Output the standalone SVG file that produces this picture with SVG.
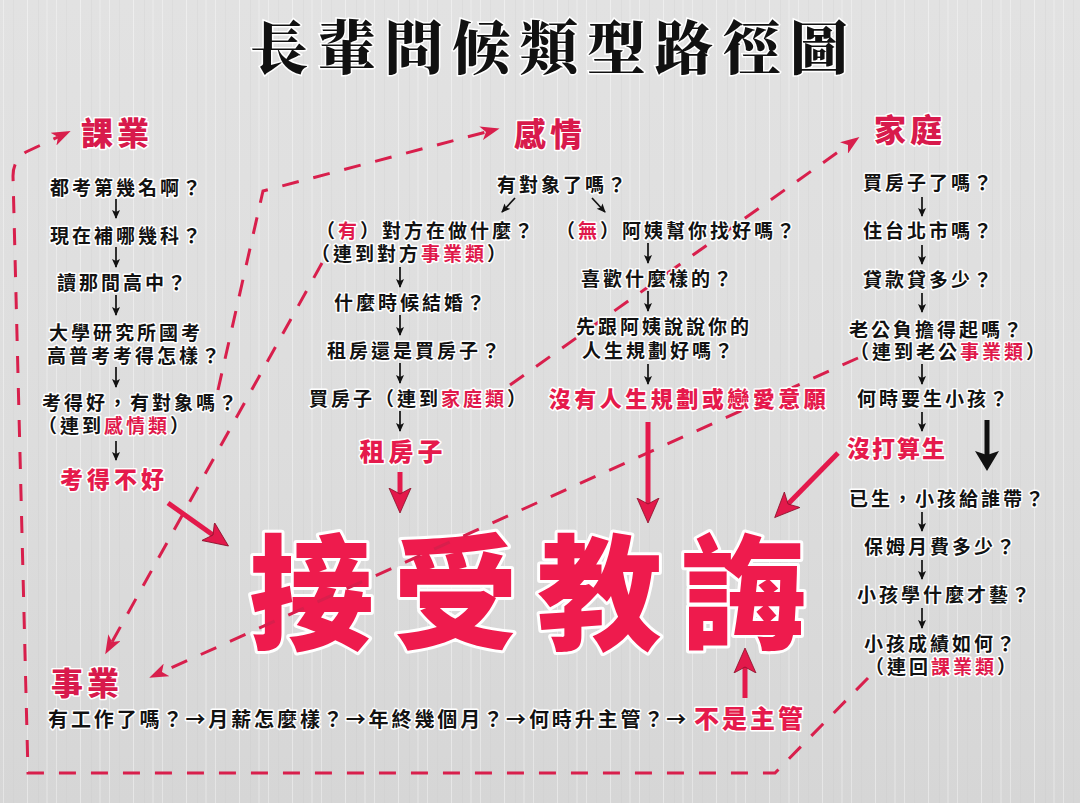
<svg xmlns="http://www.w3.org/2000/svg" width="1080" height="803" viewBox="0 0 1080 803">
<defs>
<linearGradient id="bg" x1="0" y1="0" x2="0" y2="1">
<stop offset="0" stop-color="#e2e2e2"/><stop offset="0.55" stop-color="#dddddd"/><stop offset="1" stop-color="#d6d6d6"/>
</linearGradient>
<pattern id="streaks" width="53" height="803" patternUnits="userSpaceOnUse">
<rect x="3" width="1" height="803" fill="#fff" opacity="0.35"/>
<rect x="13" width="1" height="803" fill="#c8c8c8" opacity="0.2"/>
<rect x="27" width="1" height="803" fill="#fff" opacity="0.4"/>
<rect x="38" width="1" height="803" fill="#c0c0c0" opacity="0.18"/>
<rect x="46" width="2" height="803" fill="#f4f4f4" opacity="0.3"/>
</pattern>
<marker id="sa" markerUnits="userSpaceOnUse" markerWidth="10" markerHeight="10" refX="8" refY="5" orient="auto"><path d="M0,1 L9,5 L0,9 L2,5z" fill="#111"/></marker>
<marker id="dh" markerUnits="userSpaceOnUse" markerWidth="20" markerHeight="14" refX="5" refY="7" orient="auto"><path d="M0,0 L19,7 L0,14 L5,7z" fill="#d81f4c"/></marker>
<marker id="rh" markerUnits="userSpaceOnUse" markerWidth="26" markerHeight="24" refX="6" refY="12" orient="auto"><path d="M0,1 L25,12 L0,23 L6,12z" fill="#e3194b" stroke="#8a0f2a" stroke-width="0.8"/></marker>
<marker id="bh" markerUnits="userSpaceOnUse" markerWidth="26" markerHeight="26" refX="4" refY="13" orient="auto"><path d="M0,1 L20,13 L0,25 L4,13z" fill="#111"/></marker>
</defs>
<style>
.t{font-family:"Noto Sans CJK TC","Noto Sans CJK SC",sans-serif;font-weight:700;font-size:19px;letter-spacing:3px;fill:#121212;stroke:#fff;stroke-width:3px;paint-order:stroke;stroke-linejoin:round;text-anchor:middle}
.r{fill:#e0194b}
.h{font-size:32px;font-weight:900;fill:#d81a4c;letter-spacing:4px}
.rl{font-size:23px;font-weight:900;fill:#e51a4c;letter-spacing:4px}
.big{font-family:"Noto Sans CJK TC","Noto Sans CJK SC",sans-serif;font-weight:900;font-size:125px;letter-spacing:19px;fill:#ee1b4d;stroke:#fff;stroke-width:6px;paint-order:stroke;stroke-linejoin:round}
.title{font-family:"Noto Serif CJK TC","Noto Sans CJK TC","Noto Sans CJK SC",serif;font-weight:900;font-size:58px;letter-spacing:9.5px;fill:#111;stroke:#fff;stroke-width:3px;paint-order:stroke}
.sm{stroke:#111;stroke-width:1.7;fill:none;marker-end:url(#sa)}
.dash{stroke:#d81f4c;stroke-width:3;fill:none;stroke-dasharray:17 15;marker-end:url(#dh)}
.ra{stroke:#e3194b;stroke-width:5;fill:none;marker-end:url(#rh)}
</style>
<rect width="1080" height="803" fill="url(#bg)"/>
<rect width="1080" height="803" fill="url(#streaks)"/>

<text class="title" x="250" y="69">長輩問候類型路徑圖</text>

<g id="result">
<text class="big" x="249" y="640">接受教誨</text>
</g>

<g id="connectors">
<path class="dash" d="M868,678 L775,773 L28,773 L13,176 Q13,160 26,152 L58,137"/>
<path class="dash" d="M218,390 L263,191 L486,132"/>
<path class="dash" d="M322,263 L112,642"/>
<path class="dash" d="M510,385 L848,145"/>
<path class="dash" d="M858,358 L162,672"/>
<line class="sm" x1="116" y1="199" x2="116" y2="218"/>
<line class="sm" x1="116" y1="247" x2="116" y2="267"/>
<line class="sm" x1="116" y1="295" x2="116" y2="315"/>
<line class="sm" x1="116" y1="367" x2="116" y2="387"/>
<line class="sm" x1="116" y1="441" x2="116" y2="460"/>
<line class="sm" x1="515" y1="198" x2="502" y2="212"/>
<line class="sm" x1="592" y1="198" x2="605" y2="212"/>
<line class="sm" x1="400" y1="267" x2="400" y2="287"/>
<line class="sm" x1="400" y1="315" x2="400" y2="335"/>
<line class="sm" x1="400" y1="363" x2="400" y2="383"/>
<line class="sm" x1="400" y1="411" x2="400" y2="431"/>
<line class="sm" x1="648" y1="243" x2="648" y2="263"/>
<line class="sm" x1="648" y1="291" x2="648" y2="311"/>
<line class="sm" x1="648" y1="364" x2="648" y2="384"/>
<line class="sm" x1="922" y1="197" x2="922" y2="216"/>
<line class="sm" x1="922" y1="245" x2="922" y2="264"/>
<line class="sm" x1="922" y1="293" x2="922" y2="312"/>
<line class="sm" x1="922" y1="364" x2="922" y2="384"/>
<line class="sm" x1="922" y1="412" x2="922" y2="431"/>
<line class="sm" x1="922" y1="512" x2="922" y2="531"/>
<line class="sm" x1="922" y1="560" x2="922" y2="579"/>
<line class="sm" x1="922" y1="608" x2="922" y2="628"/>
<line class="ra" x1="168" y1="503" x2="213" y2="535"/>
<line class="ra" x1="400" y1="472" x2="400" y2="494"/>
<line class="ra" x1="648" y1="422" x2="648" y2="504"/>
<line class="ra" x1="838" y1="453" x2="788" y2="504"/>
<line class="ra" x1="745" y1="698" x2="745" y2="667"/>
<line x1="987" y1="420" x2="987" y2="455" stroke="#111" stroke-width="5" marker-end="url(#bh)"/>
</g>

<g id="school">
<text class="t h" x="117" y="145">課業</text>
<text class="t" x="127" y="195">都考第幾名啊？</text>
<text class="t" x="127" y="243">現在補哪幾科？</text>
<text class="t" x="123" y="290">讀那間高中？</text>
<text class="t"><tspan x="126" y="340">大學研究所國考</tspan><tspan x="135" y="363">高普考考得怎樣？</tspan></text>
<text class="t"><tspan x="141" y="410">考得好，有對象嗎？</tspan><tspan x="115" y="433">（連到<tspan class="r">感情類</tspan>）</tspan></text>
<text class="t rl" x="114" y="488">考得不好</text>
</g>

<g id="romance">
<text class="t h" x="550" y="146">感情</text>
<text class="t" x="563" y="192">有對象了嗎？</text>
<text class="t"><tspan x="426" y="238">（<tspan class="r">有</tspan>）對方在做什麼？</tspan><tspan x="410" y="261">（連到對方<tspan class="r">事業類</tspan>）</tspan></text>
<text class="t" x="411" y="310">什麼時候結婚？</text>
<text class="t" x="415" y="358">租房還是買房子？</text>
<text class="t" x="419" y="406">買房子（連到<tspan class="r">家庭類</tspan>）</text>
<text class="t rl" x="403" y="461" style="font-size:25px">租房子</text>
<text class="t" x="677" y="238">（<tspan class="r">無</tspan>）阿姨幫你找好嗎？</text>
<text class="t" x="658" y="286">喜歡什麼樣的？</text>
<text class="t"><tspan x="664" y="334">先跟阿姨說說你的</tspan><tspan x="659" y="358">人生規劃好嗎？</tspan></text>
<text class="t rl" x="689" y="407" style="font-size:22px;letter-spacing:3.5px">沒有人生規劃或戀愛意願</text>
</g>

<g id="family">
<text class="t h" x="910" y="142">家庭</text>
<text class="t" x="929" y="190">買房子了嗎？</text>
<text class="t" x="929" y="238">住台北市嗎？</text>
<text class="t" x="929" y="287">貸款貸多少？</text>
<text class="t"><tspan x="937" y="337">老公負擔得起嗎？</tspan><tspan x="949" y="359">（連到老公<tspan class="r">事業類</tspan>）</tspan></text>
<text class="t" x="934" y="406">何時要生小孩？</text>
<text class="t rl" x="897" y="457" style="letter-spacing:2px">沒打算生</text>
<text class="t" x="948" y="506">已生，小孩給誰帶？</text>
<text class="t" x="941" y="554">保姆月費多少？</text>
<text class="t" x="945" y="602">小孩學什麼才藝？</text>
<text class="t"><tspan x="941" y="651">小孩成績如何？</tspan><tspan x="942" y="674">（連回<tspan class="r">課業類</tspan>）</tspan></text>
</g>

<g id="career">
<text class="t h" x="87" y="695">事業</text>
<text class="t" x="48" y="727" style="text-anchor:start;font-size:20px;letter-spacing:2.9px">有工作了嗎？→月薪怎麼樣？→年終幾個月？→何時升主管？→</text>
<text class="t rl" x="750" y="728" style="font-size:25px;letter-spacing:3px">不是主管</text>
</g>
</svg>
